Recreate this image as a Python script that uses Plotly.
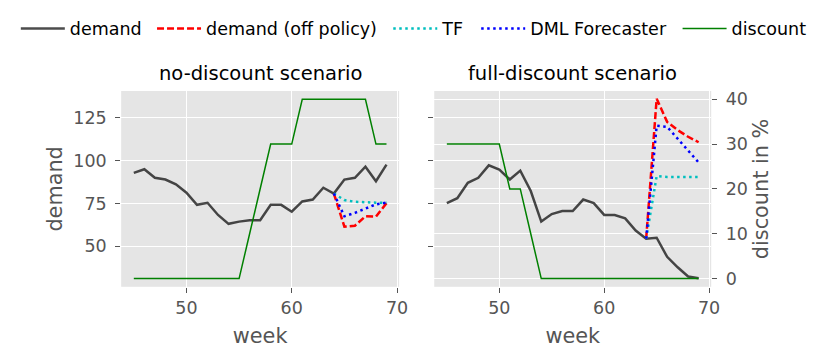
import plotly.graph_objects as go

weeks = list(range(45, 70))
fc_weeks = list(range(64, 70))

nd_demand = [92.9, 95, 90, 89, 86.2, 81.3, 74.2, 75.4, 68.3, 63.1, 64.4, 65.2, 65.2,
             74.2, 74.2, 70.2, 76.2, 77.3, 84.2, 80.8, 89, 90, 96.5, 88, 97.7]
nd_discount = [0, 0, 0, 0, 0, 0, 0, 0, 0, 0, 0, 10, 20, 30, 30, 30, 40, 40, 40, 40, 40, 40, 40, 30, 30]
nd_offpolicy = [80.8, 61.5, 62, 67.5, 67.3, 75.2]
nd_dml = [80.8, 67.5, 69.5, 72, 74.5, 75.5]
nd_tf = [80.8, 77, 76, 75.6, 75.5, 75.5]

fd_demand = [75.2, 78.1, 87.1, 90, 97.3, 94.8, 89, 94.2, 82.3, 64.4, 68.8, 70.6, 70.6,
             77.3, 75.2, 68.3, 68.3, 66.3, 59.2, 54.4, 55, 43.8, 37.7, 32.3, 31.3]
fd_discount = [30, 30, 30, 30, 30, 30, 20, 20, 10, 0, 0, 0, 0, 0, 0, 0, 0, 0, 0, 0, 0, 0, 0, 0, 0]
fd_offpolicy = [54.4, 136.2, 122.7, 117.9, 114, 110.8]
fd_dml = [54.4, 120.4, 119.8, 113, 106.3, 99]
fd_tf = [54.4, 91, 90.5, 90.5, 90.5, 90.5]

x_ticks = [50, 60, 70]
y_ticks = [50, 75, 100, 125]
disc_ticks = [0, 10, 20, 30, 40]

W, H = 831, 360
FONT = "DejaVu Sans"
GRAY = "#555555"
BG = "#E5E5E5"

C_DEM = "rgba(0,0,0,0.7)"
C_OFF = "#FF0000"
C_TF = "#00BFBF"
C_DML = "#0000FF"
C_DISC = "#008000"

fig = go.Figure()

def add_panel(xa, ya, yd, dem, disc, off, dml, tf, show):
    fig.add_trace(go.Scatter(x=weeks, y=dem, mode="lines", name="demand",
                             line=dict(color=C_DEM, width=2.5), xaxis=xa, yaxis=ya,
                             showlegend=show, legend="legend"))
    fig.add_trace(go.Scatter(x=fc_weeks, y=off, mode="lines", name="demand (off policy)",
                             line=dict(color=C_OFF, width=2.5, dash="7px,3px"), xaxis=xa, yaxis=ya,
                             showlegend=show, legend="legend2"))
    fig.add_trace(go.Scatter(x=fc_weeks, y=tf, mode="lines", name="TF",
                             line=dict(color=C_TF, width=2.5, dash="2.5px,3.5px"), xaxis=xa, yaxis=ya,
                             showlegend=show, legend="legend3"))
    fig.add_trace(go.Scatter(x=fc_weeks, y=dml, mode="lines", name="DML Forecaster",
                             line=dict(color=C_DML, width=2.5, dash="2.5px,3.5px"), xaxis=xa, yaxis=ya,
                             showlegend=show, legend="legend4"))
    fig.add_trace(go.Scatter(x=weeks, y=disc, mode="lines", name="discount",
                             line=dict(color=C_DISC, width=1.5), xaxis=xa, yaxis=yd,
                             showlegend=show, legend="legend5"))

add_panel("x", "y", "y2", nd_demand, nd_discount, nd_offpolicy, nd_dml, nd_tf, True)
add_panel("x2", "y3", "y4", fd_demand, fd_discount, fd_offpolicy, fd_dml, fd_tf, False)

xl = [122.5 / W, 403.5 / W]
xr = [439 / W, 719 / W]
yd = [1 - 288 / H, 1 - 90 / H]
yrange = [26.3, 140.75]
drange = [-1.83, 41.83]

tickfont = dict(family=FONT, size=17.5, color=GRAY)
titlefont = dict(family=FONT, size=20.8, color=GRAY)

common_x = dict(range=[43.8, 70.2], tickvals=x_ticks, ticks="outside", ticklen=5, tickcolor=GRAY,
                tickfont=tickfont, showgrid=True, gridcolor="white", gridwidth=1.2, zeroline=False,
                showline=False, title=dict(text="week", font=titlefont, standoff=11))
common_y = dict(range=yrange, tickvals=y_ticks, ticks="outside", ticklen=5, tickcolor=GRAY,
                tickfont=tickfont, showgrid=True, gridcolor="white", gridwidth=1.2, zeroline=False,
                showline=False)

legend_common = dict(orientation="h", yanchor="middle", y=1 - 27 / H, xanchor="left",
                     bgcolor="rgba(0,0,0,0)", font=dict(family=FONT, size=17.5, color="black"),
                     itemwidth=44)
leg_text_starts = [70, 207.7, 446.5, 535.4, 739]

fig.update_layout(
    width=W, height=H, margin=dict(l=0, r=0, t=0, b=0),
    paper_bgcolor="white", plot_bgcolor=BG,
    font=dict(family=FONT),
    xaxis=dict(domain=xl, anchor="y", **common_x),
    xaxis2=dict(domain=xr, anchor="y3", **common_x),
    yaxis=dict(domain=yd, anchor="x", ticklabelstandoff=5,
               title=dict(text="demand", font=titlefont, standoff=4), **common_y),
    yaxis2=dict(domain=yd, anchor="x", overlaying="y", side="right", range=drange,
                showgrid=False, showticklabels=False, ticks="", zeroline=False, showline=False),
    yaxis3=dict(domain=yd, anchor="x2", showticklabels=False, **common_y),
    yaxis4=dict(domain=yd, anchor="x2", overlaying="y3", side="right", range=drange,
                tickvals=disc_ticks, ticks="outside", ticklen=5, tickcolor=GRAY, tickfont=tickfont,
                ticklabelstandoff=5, showgrid=True, gridcolor="white", gridwidth=1.2, zeroline=False,
                showline=False, title=dict(text="discount in %", font=titlefont, standoff=6)),
    annotations=[
        dict(text="no-discount scenario", x=(xl[0] + xl[1]) / 2, y=1 - 72 / H, xref="paper", yref="paper",
             xanchor="center", yanchor="middle", showarrow=False,
             font=dict(family=FONT, size=19.5, color="black")),
        dict(text="full-discount scenario", x=(xr[0] + xr[1]) / 2, y=1 - 72 / H, xref="paper", yref="paper",
             xanchor="center", yanchor="middle", showarrow=False,
             font=dict(family=FONT, size=19.5, color="black")),
    ],
)
for i, ts in enumerate(leg_text_starts):
    key = "legend" if i == 0 else f"legend{i + 1}"
    fig.update_layout({key: dict(x=(ts - 54) / W, **legend_common)})

fig.write_html(
    "out.html",
    config={"displayModeBar": False},
    post_script=("document.body.style.margin='0';"
                 "document.body.style.overflow='hidden';"
                 "document.documentElement.style.overflow='hidden';"),
)
